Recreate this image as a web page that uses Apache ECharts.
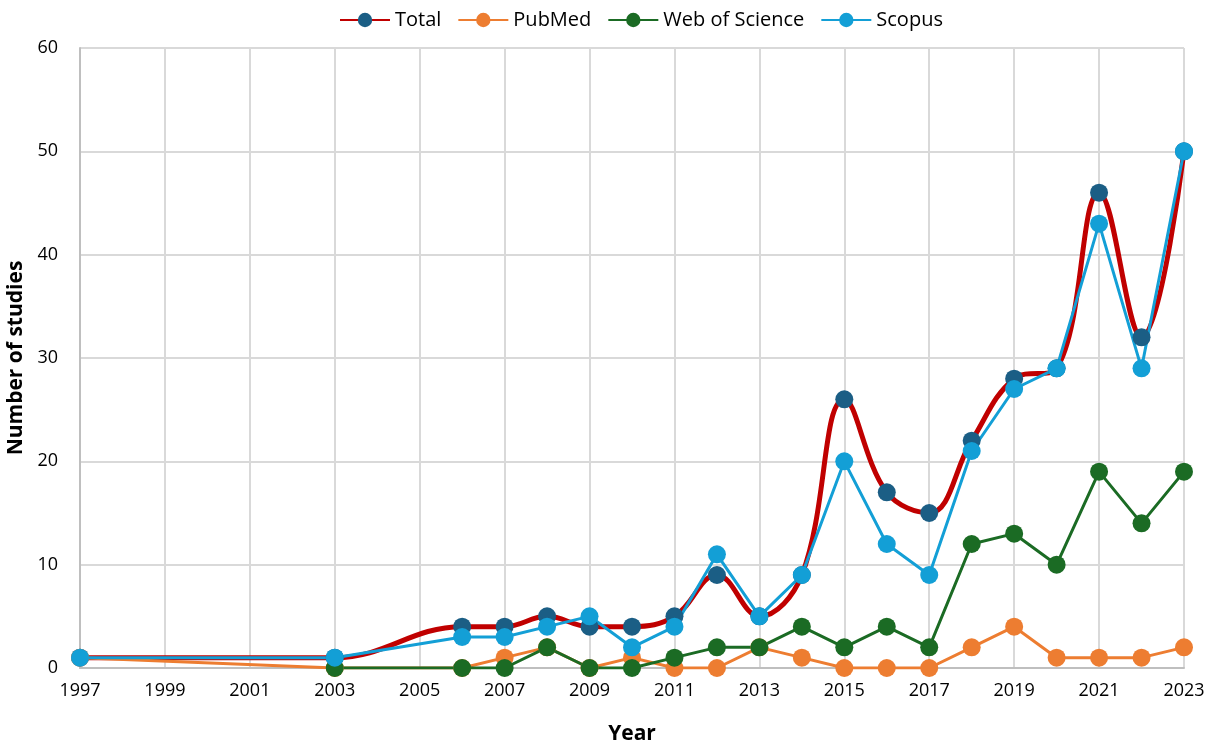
<!DOCTYPE html>
<html>
<head>
<meta charset="utf-8">
<script src="https://cdn.jsdelivr.net/npm/echarts@6/dist/echarts.min.js"></script>
<style>
  html, body { margin: 0; padding: 0; background: #fff; }
  #chart { width: 1217px; height: 748px; }
</style>
</head>
<body>
<div id="chart"></div>
<script>
var years = [1997, 2003, 2006, 2007, 2008, 2009, 2010, 2011, 2012, 2013, 2014, 2015, 2016, 2017, 2018, 2019, 2020, 2021, 2022, 2023];
var total = [1, 1, 4, 4, 5, 4, 4, 5, 9, 5, 9, 26, 17, 15, 22, 28, 29, 46, 32, 50];
var pubmed = [1, 0, 0, 1, 2, 0, 1, 0, 0, 2, 1, 0, 0, 0, 2, 4, 1, 1, 1, 2];
var wos = [null, 0, 0, 0, 2, 0, 0, 1, 2, 2, 4, 2, 4, 2, 12, 13, 10, 19, 14, 19];
var scopus = [1, 1, 3, 3, 4, 5, 2, 4, 11, 5, 9, 20, 12, 9, 21, 27, 29, 43, 29, 50];

function pairs(vals) {
    return years.map(function (y, i) { return [y, vals[i]]; });
}

var font = '"Open Sans", "Noto Sans", sans-serif';
var chart = echarts.init(document.getElementById('chart'));

chart.setOption({
    animation: false,
    textStyle: { fontFamily: font },
    legend: {
        top: 5,
        left: 334,
        itemWidth: 50,
        itemHeight: 18,
        itemGap: 16,
        textStyle: { fontSize: 20, color: '#000', fontFamily: font },
        data: ['Total', 'PubMed', 'Web of Science', 'Scopus']
    },
    grid: { left: 80, right: 33, top: 48, bottom: 80, containLabel: false, outerBoundsMode: 'none' },
    xAxis: {
        type: 'value',
        min: 1997,
        max: 2023,
        interval: 2,
        name: 'Year',
        nameLocation: 'middle',
        nameGap: 56,
        nameTextStyle: { fontSize: 21, fontWeight: 'bold', color: '#000', fontFamily: font },
        axisLine: { show: true, lineStyle: { color: '#bfbfbf', width: 2 } },
        axisTick: { show: false },
        axisLabel: { fontSize: 18, color: '#000', margin: 14, formatter: function (v) { return String(v); } },
        splitLine: { show: true, lineStyle: { color: '#d9d9d9', width: 2 } }
    },
    yAxis: {
        type: 'value',
        min: 0,
        max: 60,
        interval: 10,
        name: 'Number of studies',
        nameLocation: 'middle',
        nameGap: 44,
        nameTextStyle: { fontSize: 21, fontWeight: 'bold', color: '#000', fontFamily: font },
        axisLine: { show: true, lineStyle: { color: '#bfbfbf', width: 2 } },
        axisTick: { show: false },
        axisLabel: { fontSize: 18, color: '#000', margin: 22 },
        splitLine: { show: true, lineStyle: { color: '#d9d9d9', width: 2 } }
    },
    series: [
        {
            name: 'Total',
            type: 'line',
            smooth: 0.4,
            data: pairs(total),
            symbol: 'circle',
            symbolSize: 18,
            lineStyle: { color: '#c00000', width: 5 },
            itemStyle: { color: '#1b5e85' }
        },
        {
            name: 'PubMed',
            type: 'line',
            data: pairs(pubmed),
            symbol: 'circle',
            symbolSize: 18,
            lineStyle: { color: '#ed7d31', width: 3 },
            itemStyle: { color: '#ed7d31' }
        },
        {
            name: 'Web of Science',
            type: 'line',
            data: pairs(wos),
            symbol: 'circle',
            symbolSize: 18,
            lineStyle: { color: '#1b6b24', width: 3 },
            itemStyle: { color: '#1b6b24' }
        },
        {
            name: 'Scopus',
            type: 'line',
            data: pairs(scopus),
            symbol: 'circle',
            symbolSize: 18,
            lineStyle: { color: '#139fd6', width: 3 },
            itemStyle: { color: '#139fd6' }
        }
    ]
});
</script>
</body>
</html>
